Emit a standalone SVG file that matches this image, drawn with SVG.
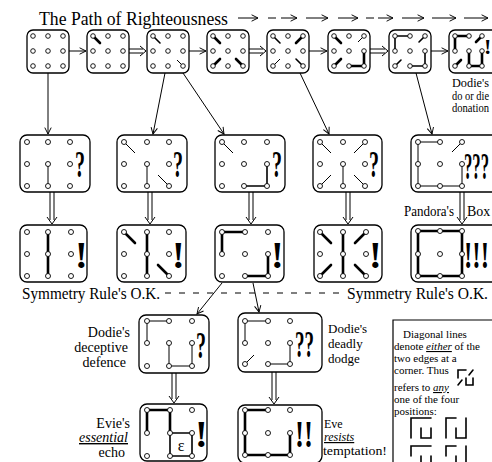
<svg xmlns="http://www.w3.org/2000/svg" width="492" height="462" viewBox="0 0 492 462">
<style>
.bx{fill:#fff;stroke:#000;stroke-width:1.3}
.d{fill:#fff;stroke:#000;stroke-width:0.9}
.tk{stroke:#000;stroke-width:2.6;stroke-linecap:round;fill:none}
.md{stroke:#000;stroke-width:1.6;stroke-linecap:round;fill:none}
.tn{stroke:#000;stroke-width:1;fill:none}
.c{stroke:#000;stroke-width:1;fill:none}
text{font-family:"Liberation Serif",serif;fill:#000}
.big{font-weight:bold;font-size:38px}
.lb{font-size:14px}
.mb{font-size:13px}
.sm{font-size:12px}
.lg{font-size:11px}
</style>
<defs>
<marker id="a" viewBox="0 0 10 10" refX="9" refY="5" markerWidth="8" markerHeight="8" orient="auto" markerUnits="userSpaceOnUse"><path d="M1,1 L9,5 L1,9" fill="none" stroke="#000" stroke-width="1.2"/></marker>
</defs>
<rect width="492" height="462" fill="#fff"/>

<g id="title">
<text x="39" y="25" font-size="18" textLength="189" lengthAdjust="spacingAndGlyphs">The Path of Righteousness</text>
<g class="c" stroke-width="1.3" marker-end="url(#a)">
<path d="M238,18 H258"/><path d="M268,18 H276 M281,18 H297"/><path d="M306,18 H328"/><path d="M338,18 H358"/><path d="M366,18 H374 M378,18 H393"/><path d="M402,18 H424"/><path d="M432,18 H456"/><path d="M464,18 H488"/>
</g>
</g>

<!-- Top row -->
<g id="p1"><rect class="bx" x="27" y="30" width="42" height="43" rx="6"/>
<g class="d"><circle cx="33" cy="36" r="2.3"/><circle cx="48" cy="36" r="2.3"/><circle cx="63" cy="36" r="2.3"/><circle cx="33" cy="51" r="2.3"/><circle cx="48" cy="51" r="2.3"/><circle cx="63" cy="51" r="2.3"/><circle cx="33" cy="66" r="2.3"/><circle cx="48" cy="66" r="2.3"/><circle cx="63" cy="66" r="2.3"/></g></g>

<g id="p2"><rect class="bx" x="87" y="30" width="42" height="43" rx="6"/>
<path class="tk" d="M93,36 L100,43"/>
<g class="d"><circle cx="93" cy="36" r="2.3"/><circle cx="108" cy="36" r="2.3"/><circle cx="123" cy="36" r="2.3"/><circle cx="93" cy="51" r="2.3"/><circle cx="108" cy="51" r="2.3"/><circle cx="123" cy="51" r="2.3"/><circle cx="93" cy="66" r="2.3"/><circle cx="108" cy="66" r="2.3"/><circle cx="123" cy="66" r="2.3"/></g></g>

<g id="p3"><rect class="bx" x="147" y="30" width="42" height="43" rx="6"/>
<path class="md" d="M153,36 L160,43"/><path class="tn" d="M183,66 L177,60"/>
<g class="d"><circle cx="153" cy="36" r="2.3"/><circle cx="168" cy="36" r="2.3"/><circle cx="183" cy="36" r="2.3"/><circle cx="153" cy="51" r="2.3"/><circle cx="168" cy="51" r="2.3"/><circle cx="183" cy="51" r="2.3"/><circle cx="153" cy="66" r="2.3"/><circle cx="168" cy="66" r="2.3"/><circle cx="183" cy="66" r="2.3"/></g></g>

<g id="p4"><rect class="bx" x="207" y="30" width="42" height="43" rx="6"/>
<path class="tk" d="M213,36 L220,43 M213,66 L220,59 M243,66 L236,59"/>
<g class="d"><circle cx="213" cy="36" r="2.3"/><circle cx="228" cy="36" r="2.3"/><circle cx="243" cy="36" r="2.3"/><circle cx="213" cy="51" r="2.3"/><circle cx="228" cy="51" r="2.3"/><circle cx="243" cy="51" r="2.3"/><circle cx="213" cy="66" r="2.3"/><circle cx="228" cy="66" r="2.3"/><circle cx="243" cy="66" r="2.3"/></g></g>

<g id="p5"><rect class="bx" x="267" y="30" width="42" height="43" rx="6"/>
<path class="md" d="M273,36 L280,43 M303,66 L296,59"/><path class="tk" d="M303,36 L296,43"/><path class="tn" d="M273,66 L280,59"/>
<g class="d"><circle cx="273" cy="36" r="2.3"/><circle cx="288" cy="36" r="2.3"/><circle cx="303" cy="36" r="2.3"/><circle cx="273" cy="51" r="2.3"/><circle cx="288" cy="51" r="2.3"/><circle cx="303" cy="51" r="2.3"/><circle cx="273" cy="66" r="2.3"/><circle cx="288" cy="66" r="2.3"/><circle cx="303" cy="66" r="2.3"/></g></g>

<g id="p6"><rect class="bx" x="328" y="30" width="42" height="43" rx="6"/>
<path class="tk" d="M334,36 L341,43 M334,66 L341,59 M364,51 V66 H349"/><path class="tn" d="M364,36 L358,42"/>
<g class="d"><circle cx="334" cy="36" r="2.3"/><circle cx="349" cy="36" r="2.3"/><circle cx="364" cy="36" r="2.3"/><circle cx="334" cy="51" r="2.3"/><circle cx="349" cy="51" r="2.3"/><circle cx="364" cy="51" r="2.3"/><circle cx="334" cy="66" r="2.3"/><circle cx="349" cy="66" r="2.3"/><circle cx="364" cy="66" r="2.3"/></g></g>

<g id="p7"><rect class="bx" x="389" y="30" width="42" height="43" rx="6"/>
<path class="md" d="M395,51 V36 H410 M425,51 V66 H410"/><path class="md" d="M425,36 L419,42 M395,66 L401,60"/>
<g class="d"><circle cx="395" cy="36" r="2.3"/><circle cx="410" cy="36" r="2.3"/><circle cx="425" cy="36" r="2.3"/><circle cx="395" cy="51" r="2.3"/><circle cx="410" cy="51" r="2.3"/><circle cx="425" cy="51" r="2.3"/><circle cx="395" cy="66" r="2.3"/><circle cx="410" cy="66" r="2.3"/><circle cx="425" cy="66" r="2.3"/></g></g>

<g id="p8"><rect class="bx" x="449" y="30" width="56" height="43" rx="6"/>
<path class="tk" d="M455,51 V36 H469 M469,51 V66 H482 V51 M482,36 L476,42 M455,66 L461,60"/>
<g class="d"><circle cx="455" cy="36" r="2.3"/><circle cx="469" cy="36" r="2.3"/><circle cx="482" cy="36" r="2.3"/><circle cx="455" cy="51" r="2.3"/><circle cx="469" cy="51" r="2.3"/><circle cx="482" cy="51" r="2.3"/><circle cx="455" cy="66" r="2.3"/><circle cx="469" cy="66" r="2.3"/><circle cx="482" cy="66" r="2.3"/></g>
<text x="484" y="54" font-size="22" font-weight="bold">!</text>
<text class="sm" x="452" y="87" textLength="37" lengthAdjust="spacingAndGlyphs">Dodie's</text><text class="sm" x="452" y="100" textLength="37" lengthAdjust="spacingAndGlyphs">do or die</text><text class="sm" x="452" y="112" textLength="37" lengthAdjust="spacingAndGlyphs">donation</text></g>

<!-- Row 2 -->
<g id="q1"><rect class="bx" x="20" y="135" width="70" height="57" rx="7"/>
<path class="tn" d="M48,164 V186"/>
<g class="d"><circle cx="27" cy="142" r="2.5"/><circle cx="48" cy="142" r="2.5"/><circle cx="70" cy="142" r="2.5"/><circle cx="27" cy="164" r="2.5"/><circle cx="48" cy="164" r="2.5"/><circle cx="70" cy="164" r="2.5"/><circle cx="27" cy="186" r="2.5"/><circle cx="48" cy="186" r="2.5"/><circle cx="70" cy="186" r="2.5"/></g>
<text class="big" x="75" y="177" textLength="10" lengthAdjust="spacingAndGlyphs">?</text></g>

<g id="q2"><rect class="bx" x="117" y="135" width="70" height="57" rx="7"/>
<path class="tn" d="M147,164 V186 M124,142 L135,153 M169,186 L158,175"/>
<g class="d"><circle cx="124" cy="142" r="2.5"/><circle cx="147" cy="142" r="2.5"/><circle cx="169" cy="142" r="2.5"/><circle cx="124" cy="164" r="2.5"/><circle cx="147" cy="164" r="2.5"/><circle cx="169" cy="164" r="2.5"/><circle cx="124" cy="186" r="2.5"/><circle cx="147" cy="186" r="2.5"/><circle cx="169" cy="186" r="2.5"/></g>
<text class="big" x="173" y="177" textLength="10" lengthAdjust="spacingAndGlyphs">?</text></g>

<g id="q3"><rect class="bx" x="215" y="135" width="70" height="57" rx="7"/>
<path class="tn" d="M222,142 L233,153"/><path class="md" d="M244,186 H267 V164"/>
<g class="d"><circle cx="222" cy="142" r="2.5"/><circle cx="244" cy="142" r="2.5"/><circle cx="267" cy="142" r="2.5"/><circle cx="222" cy="164" r="2.5"/><circle cx="244" cy="164" r="2.5"/><circle cx="267" cy="164" r="2.5"/><circle cx="222" cy="186" r="2.5"/><circle cx="244" cy="186" r="2.5"/><circle cx="267" cy="186" r="2.5"/></g>
<text class="big" x="272" y="177" textLength="10" lengthAdjust="spacingAndGlyphs">?</text></g>

<g id="q4"><rect class="bx" x="313" y="135" width="69" height="57" rx="7"/>
<path class="tn" d="M343,164 V186 M320,142 L331,153 M365,142 L354,153 M320,186 L331,175 M365,186 L354,175"/>
<g class="d"><circle cx="320" cy="142" r="2.5"/><circle cx="343" cy="142" r="2.5"/><circle cx="365" cy="142" r="2.5"/><circle cx="320" cy="164" r="2.5"/><circle cx="343" cy="164" r="2.5"/><circle cx="365" cy="164" r="2.5"/><circle cx="320" cy="186" r="2.5"/><circle cx="343" cy="186" r="2.5"/><circle cx="365" cy="186" r="2.5"/></g>
<text class="big" x="369" y="177" textLength="10" lengthAdjust="spacingAndGlyphs">?</text></g>

<g id="q5"><rect class="bx" x="411" y="135" width="90" height="57" rx="7"/>
<path class="tn" d="M440,142 H418 V186 H462 V164 M462,142 L452,152"/>
<g class="d"><circle cx="418" cy="142" r="2.5"/><circle cx="440" cy="142" r="2.5"/><circle cx="462" cy="142" r="2.5"/><circle cx="418" cy="164" r="2.5"/><circle cx="440" cy="164" r="2.5"/><circle cx="462" cy="164" r="2.5"/><circle cx="418" cy="186" r="2.5"/><circle cx="440" cy="186" r="2.5"/><circle cx="462" cy="186" r="2.5"/></g>
<text class="big" x="464" y="179" textLength="25" lengthAdjust="spacingAndGlyphs">???</text></g>

<!-- Row 3 -->
<g id="r1"><rect class="bx" x="20" y="225" width="67" height="57" rx="7"/>
<path class="tk" d="M48,232 V276"/>
<g class="d"><circle cx="27" cy="232" r="2.5"/><circle cx="48" cy="232" r="2.5"/><circle cx="71" cy="232" r="2.5"/><circle cx="27" cy="254" r="2.5"/><circle cx="48" cy="254" r="2.5"/><circle cx="71" cy="254" r="2.5"/><circle cx="27" cy="276" r="2.5"/><circle cx="48" cy="276" r="2.5"/><circle cx="71" cy="276" r="2.5"/></g>
<text class="big" x="75" y="268">!</text></g>

<g id="r2"><rect class="bx" x="117" y="225" width="69" height="57" rx="7"/>
<path class="tk" d="M147,232 V276 M124,232 L135,243 M169,276 L158,265"/>
<g class="d"><circle cx="124" cy="232" r="2.5"/><circle cx="147" cy="232" r="2.5"/><circle cx="169" cy="232" r="2.5"/><circle cx="124" cy="254" r="2.5"/><circle cx="147" cy="254" r="2.5"/><circle cx="169" cy="254" r="2.5"/><circle cx="124" cy="276" r="2.5"/><circle cx="147" cy="276" r="2.5"/><circle cx="169" cy="276" r="2.5"/></g>
<text class="big" x="172" y="268">!</text></g>

<g id="r3"><rect class="bx" x="215" y="225" width="69" height="57" rx="7"/>
<path class="tk" d="M222,254 V232 H245 M245,276 H268 V254"/>
<g class="d"><circle cx="222" cy="232" r="2.5"/><circle cx="245" cy="232" r="2.5"/><circle cx="268" cy="232" r="2.5"/><circle cx="222" cy="254" r="2.5"/><circle cx="245" cy="254" r="2.5"/><circle cx="268" cy="254" r="2.5"/><circle cx="222" cy="276" r="2.5"/><circle cx="245" cy="276" r="2.5"/><circle cx="268" cy="276" r="2.5"/></g>
<text class="big" x="271" y="268">!</text></g>

<g id="r4"><rect class="bx" x="314" y="225" width="68" height="57" rx="7"/>
<path class="tk" d="M343,232 V276 M320,232 L331,243 M366,232 L355,243 M320,276 L331,265 M366,276 L355,265"/>
<g class="d"><circle cx="320" cy="232" r="2.5"/><circle cx="343" cy="232" r="2.5"/><circle cx="366" cy="232" r="2.5"/><circle cx="320" cy="254" r="2.5"/><circle cx="343" cy="254" r="2.5"/><circle cx="366" cy="254" r="2.5"/><circle cx="320" cy="276" r="2.5"/><circle cx="343" cy="276" r="2.5"/><circle cx="366" cy="276" r="2.5"/></g>
<text class="big" x="369" y="268">!</text></g>

<g id="r5"><rect class="bx" x="411" y="225" width="90" height="57" rx="7"/>
<path class="tk" d="M418,231 H462 V276 H418 Z"/>
<g class="d"><circle cx="418" cy="231" r="2.5"/><circle cx="440" cy="231" r="2.5"/><circle cx="462" cy="231" r="2.5"/><circle cx="418" cy="254" r="2.5"/><circle cx="440" cy="254" r="2.5"/><circle cx="462" cy="254" r="2.5"/><circle cx="418" cy="276" r="2.5"/><circle cx="440" cy="276" r="2.5"/><circle cx="462" cy="276" r="2.5"/></g>
<text class="big" x="464" y="268" textLength="25" lengthAdjust="spacingAndGlyphs">!!!</text>
<text class="lb" x="404" y="216" textLength="50" lengthAdjust="spacingAndGlyphs">Pandora's</text><text class="lb" x="467" y="216">Box</text></g>

<g id="sym">
<text x="22" y="299" font-size="17" textLength="138" lengthAdjust="spacingAndGlyphs">Symmetry Rule's O.K.</text>
<text x="347" y="299" font-size="17" textLength="141" lengthAdjust="spacingAndGlyphs">Symmetry Rule's O.K.</text>
<path d="M165,293 H343" stroke="#000" stroke-width="1.2" stroke-dasharray="6 8"/>
</g>

<!-- Bottom -->
<g id="s1"><rect class="bx" x="139" y="315" width="70" height="58" rx="7"/>
<path class="tn" d="M147,343 V321 H169 M169,343 V366 H192 V343"/>
<g class="d"><circle cx="147" cy="321" r="2.5"/><circle cx="169" cy="321" r="2.5"/><circle cx="192" cy="321" r="2.5"/><circle cx="147" cy="343" r="2.5"/><circle cx="169" cy="343" r="2.5"/><circle cx="192" cy="343" r="2.5"/><circle cx="147" cy="366" r="2.5"/><circle cx="169" cy="366" r="2.5"/><circle cx="192" cy="366" r="2.5"/></g>
<text class="big" x="196" y="358" textLength="10" lengthAdjust="spacingAndGlyphs">?</text>
<text class="lb" x="130" y="337" text-anchor="end">Dodie's</text><text class="lb" x="128" y="352" text-anchor="end">deceptive</text><text class="lb" x="126" y="367" text-anchor="end">defence</text></g>

<g id="s2"><rect class="bx" x="140" y="404" width="67" height="57" rx="7"/>
<path class="tk" d="M147,433 V410 H170 V433"/><path class="md" d="M170,433 V456 H192 V433 H170"/>
<g class="d"><circle cx="147" cy="410" r="2.5"/><circle cx="170" cy="410" r="2.5"/><circle cx="192" cy="410" r="2.5"/><circle cx="147" cy="433" r="2.5"/><circle cx="170" cy="433" r="2.5"/><circle cx="192" cy="433" r="2.5"/><circle cx="147" cy="456" r="2.5"/><circle cx="170" cy="456" r="2.5"/><circle cx="192" cy="456" r="2.5"/></g>
<text x="181" y="451" font-size="16" text-anchor="middle">ε</text>
<text class="big" x="195" y="447">!</text>
<text class="lb" x="130" y="428" text-anchor="end">Evie's</text><text class="lb" x="128" y="442" text-anchor="end" font-style="italic" text-decoration="underline">essential</text><text class="lb" x="125" y="457" text-anchor="end">echo</text></g>

<g id="s3"><rect class="bx" x="238" y="313" width="84" height="59" rx="7"/>
<path class="tn" d="M245,343 V321 H268 M290,343 V364 H268 M245,364 L254,355"/>
<g class="d"><circle cx="245" cy="321" r="2.5"/><circle cx="268" cy="321" r="2.5"/><circle cx="290" cy="321" r="2.5"/><circle cx="245" cy="343" r="2.5"/><circle cx="268" cy="343" r="2.5"/><circle cx="290" cy="343" r="2.5"/><circle cx="245" cy="364" r="2.5"/><circle cx="268" cy="364" r="2.5"/><circle cx="290" cy="364" r="2.5"/></g>
<text class="big" x="295" y="357" textLength="19" lengthAdjust="spacingAndGlyphs">??</text>
<text class="mb" x="328" y="333">Dodie's</text><text class="mb" x="328" y="348">deadly</text><text class="mb" x="328" y="363">dodge</text></g>

<g id="s4"><rect class="bx" x="238" y="405" width="84" height="58" rx="7"/>
<path class="tk" d="M268,410 H245 V455 H290 V433"/>
<g class="d"><circle cx="245" cy="410" r="2.5"/><circle cx="268" cy="410" r="2.5"/><circle cx="290" cy="410" r="2.5"/><circle cx="245" cy="433" r="2.5"/><circle cx="268" cy="433" r="2.5"/><circle cx="290" cy="433" r="2.5"/><circle cx="245" cy="455" r="2.5"/><circle cx="268" cy="455" r="2.5"/><circle cx="290" cy="455" r="2.5"/></g>
<text class="big" x="295" y="447" textLength="18" lengthAdjust="spacingAndGlyphs">!!</text>
<text class="sm" x="324" y="428">Eve</text><text class="sm" x="324" y="441" font-style="italic" text-decoration="underline">resists</text><text class="sm" x="323" y="455" textLength="64" lengthAdjust="spacingAndGlyphs">temptation!</text></g>

<g id="legend">
<path d="M393,462 V320 H492" stroke="#000" stroke-width="1.2" fill="none"/>
<text class="lg" x="403" y="338">Diagonal lines</text>
<text class="lg" x="394" y="350" textLength="86" lengthAdjust="spacingAndGlyphs">denote <tspan font-style="italic" text-decoration="underline">either</tspan> of the</text>
<text class="lg" x="394" y="362">two edges at a</text>
<text class="lg" x="394" y="374">corner. Thus</text>
<path class="md" d="M458,378 V370 H466 M473,370 L469,375 M458,385 L462,380 M466,378 V385 H473 V378"/>
<text class="lg" x="394" y="391">refers to <tspan font-style="italic" text-decoration="underline">any</tspan></text>
<text class="lg" x="394" y="403">one of the four</text>
<text class="lg" x="394" y="415">positions:</text>
<path class="md" d="M411,428 V418 H431 M421,428 V438 H431 V428 M411,428 V438"/>
<path class="md" d="M446,428 V418 H456 M466,418 V428 M456,428 V438 H466 V428 M446,428 V438"/>
<path class="md" d="M411,456 V446 H431 M421,456 V466 H431 V456 M411,466 H421"/>
<path class="md" d="M446,456 V446 H456 M466,446 V456 M456,456 V466 H466 V456 M446,466 H456"/>
</g>

<g id="connectors">
<g class="c" marker-end="url(#a)">
<path d="M69,51 H86"/><path d="M189,51 H206"/><path d="M309,51 H327"/><path d="M431,51 H448"/>
<path d="M48,73 V134"/><path d="M165,73 L153,134"/><path d="M183,73 L224,134"/><path d="M300,73 L329,134"/><path d="M416,73 L432,134"/>
<path d="M222,283 L197,314"/><path d="M253,283 L259,312"/>
</g>
<g class="c">
<path d="M129,49 H143 M129,53 H143 M140,46 L146,51 L140,56"/>
<path d="M249,49 H263 M249,53 H263 M260,46 L266,51 L260,56"/>
<path d="M370,49 H385 M370,53 H385 M382,46 L388,51 L382,56"/>
<path d="M50,192 V220 M54,192 V220 M47,217 L52,224 L57,217"/>
<path d="M148,192 V220 M152,192 V220 M145,217 L150,224 L155,217"/>
<path d="M249,192 V220 M253,192 V220 M246,217 L251,224 L256,217"/>
<path d="M346,192 V220 M350,192 V220 M343,217 L348,224 L353,217"/>
<path d="M460,192 V220 M464,192 V220 M457,217 L462,224 L467,217"/>
<path d="M172,373 V399 M176,373 V399 M169,396 L174,403 L179,396"/>
<path d="M272,372 V400 M276,372 V400 M269,397 L274,404 L279,397"/>
</g>
</g>
</svg>
